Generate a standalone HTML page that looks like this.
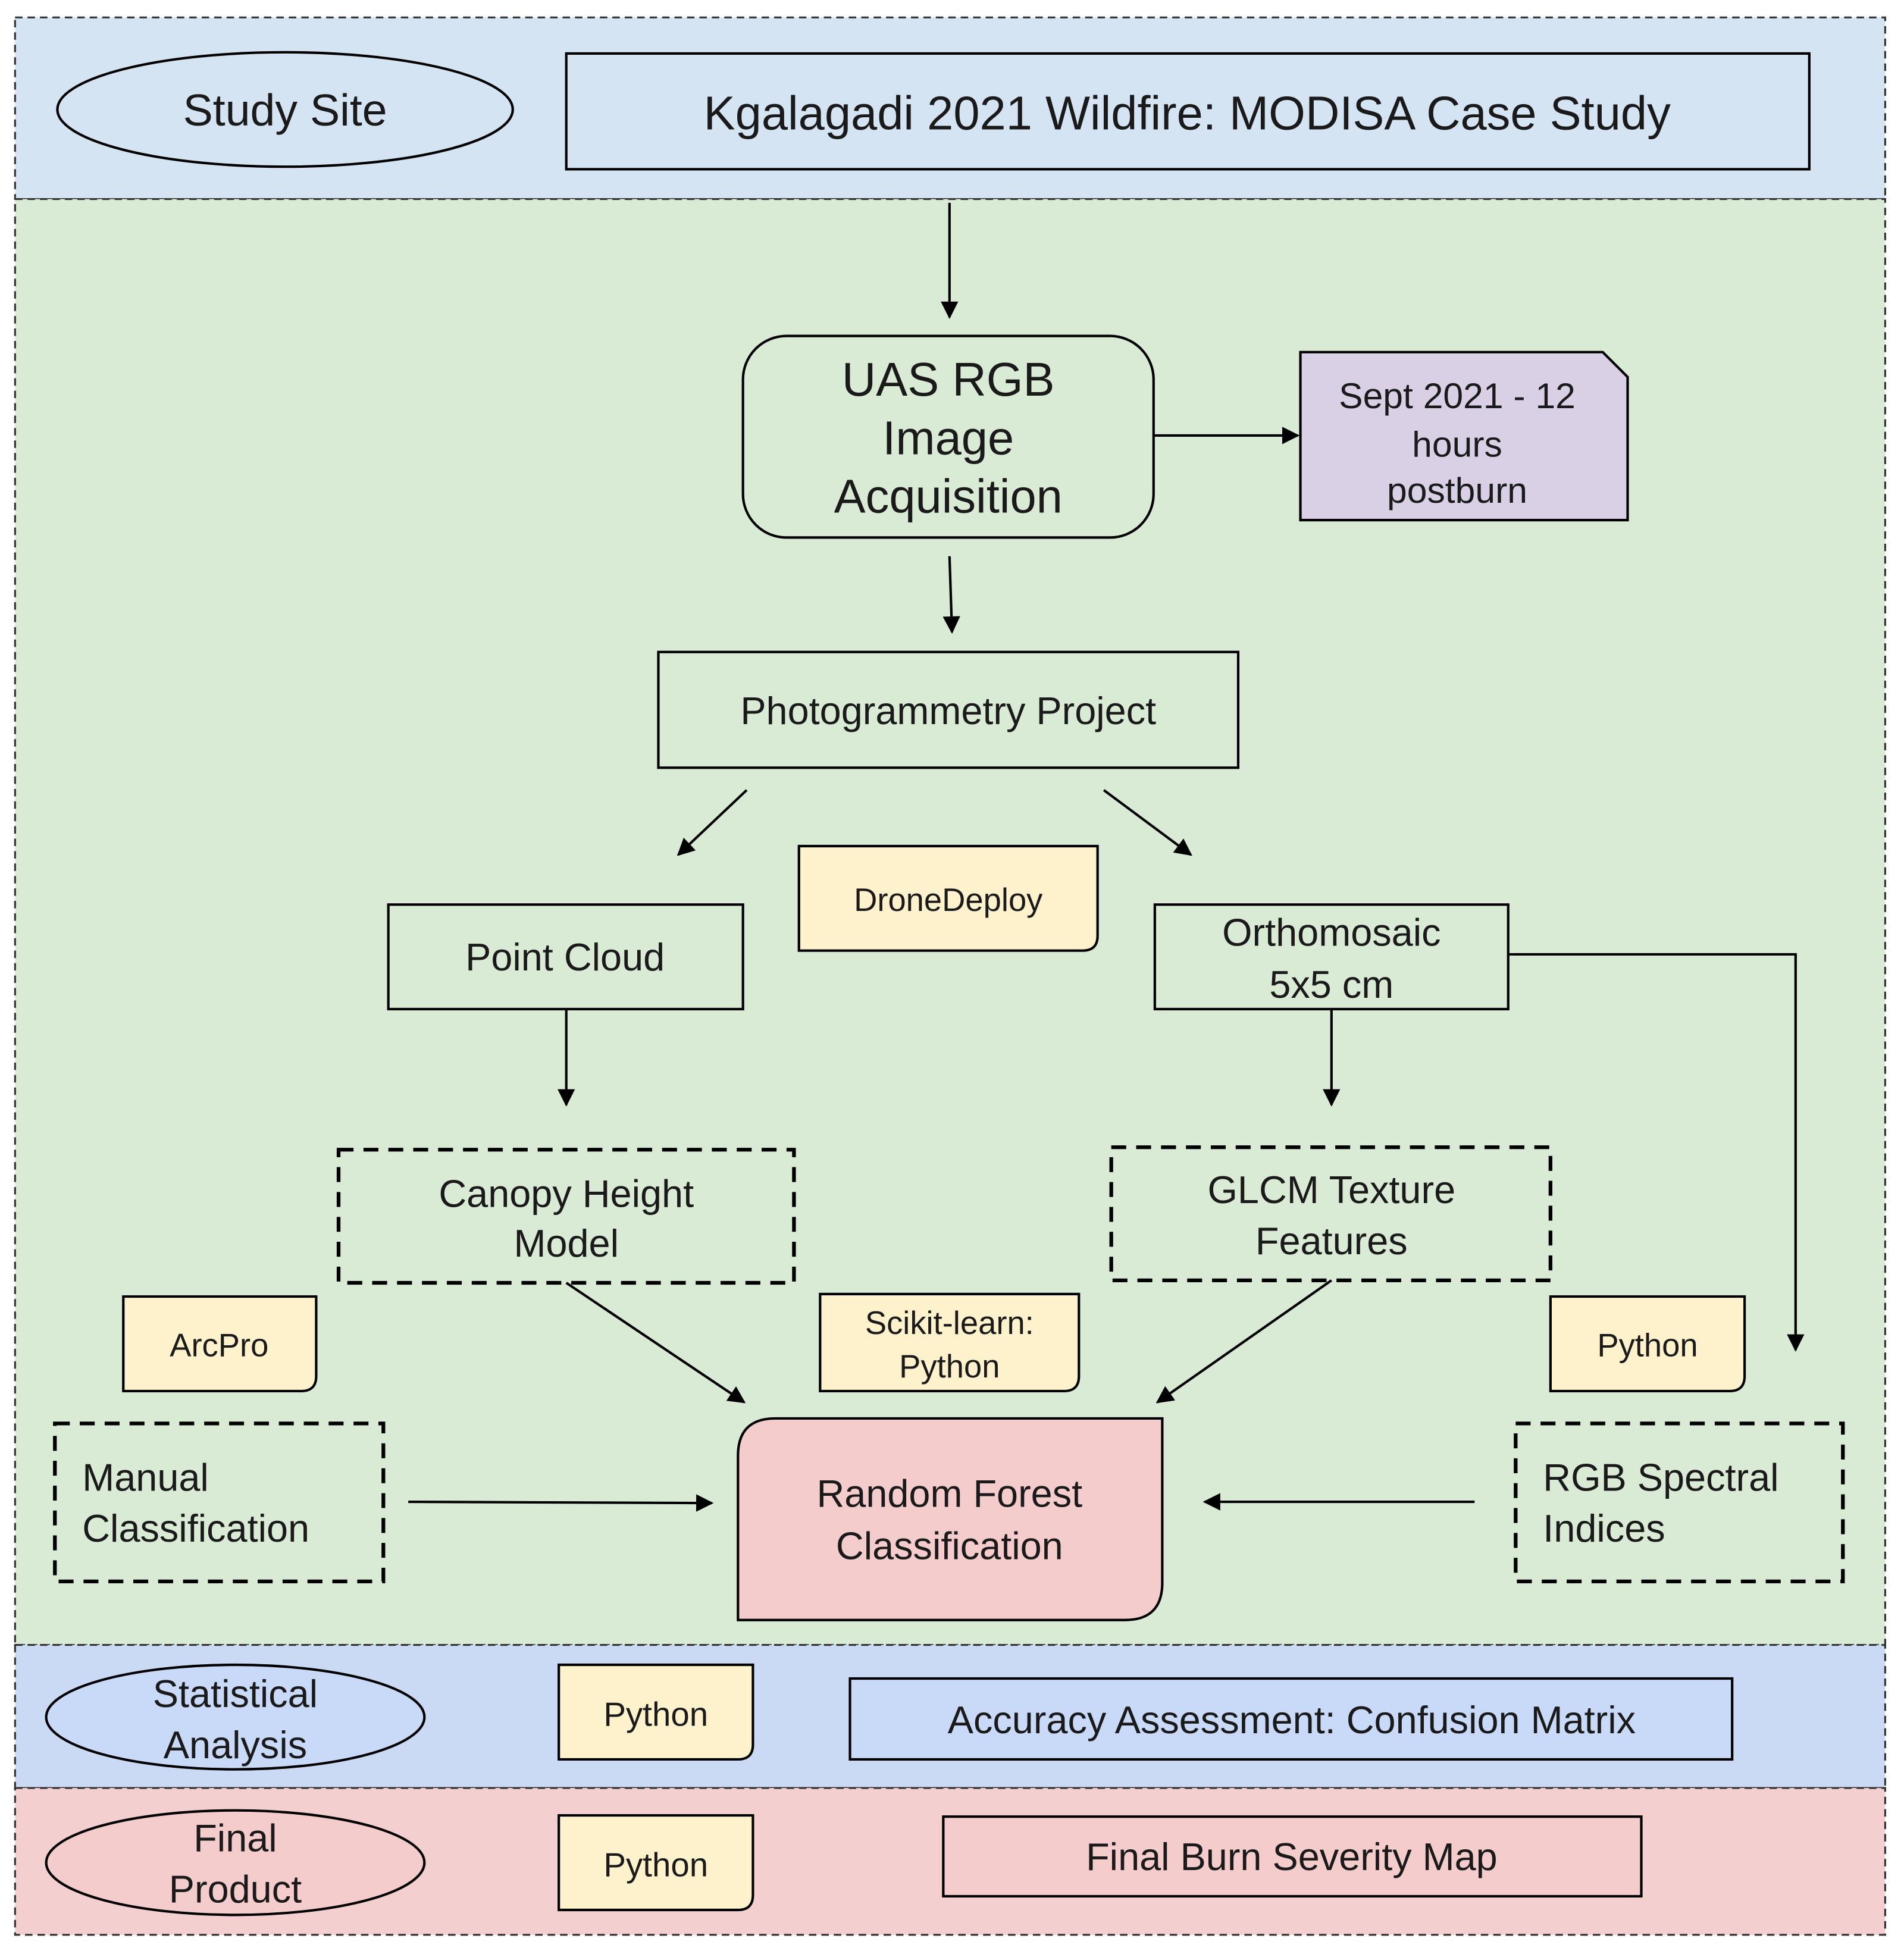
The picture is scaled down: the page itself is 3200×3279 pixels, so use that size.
<!DOCTYPE html>
<html><head><meta charset="utf-8"><style>html,body{margin:0;padding:0;background:#fff}svg{display:block}text{font-family:"Liberation Sans",sans-serif;fill:#1a1a1a;text-anchor:middle}</style></head>
<body>
<svg width="3200" height="3279" viewBox="0 0 1530 1568" xmlns="http://www.w3.org/2000/svg">
<defs><marker id="a" markerWidth="10" markerHeight="10" refX="9" refY="5" orient="auto" markerUnits="userSpaceOnUse"><path d="M0,0 L10,5 L0,10 z" fill="#000"/></marker>
<marker id="b" viewBox="0 0 10 10" markerWidth="16" markerHeight="14" refX="9" refY="5" orient="auto" markerUnits="userSpaceOnUse"><path d="M0,0 L10,5 L0,10 z" fill="#000"/></marker></defs>
<g stroke="#333" stroke-width="1.5" stroke-dasharray="6,4">
<rect x="12" y="14" width="1503" height="146" fill="#d4e4f2"/>
<rect x="12" y="160" width="1503" height="1162" fill="#d9ead5"/>
<rect x="12" y="1322" width="1503" height="115" fill="#cbdaf4"/>
<rect x="12" y="1437" width="1503" height="118" fill="#f4cfcf"/>
</g>
<g stroke="#000" stroke-width="2" fill="none">
<ellipse cx="229" cy="88" rx="183" ry="46" fill="#d4e4f2"/>
<rect x="455" y="43" width="999" height="93" fill="#d4e4f2"/>
<rect x="597" y="270" width="330" height="162" rx="35" fill="#d9ead5"/>
<path d="M1045,283 H1288 L1308,303 V418 H1045 Z" fill="#d9d0e6"/>
<rect x="529" y="524" width="466" height="93" fill="#d9ead5"/>
<path d="M642,680 H882 V752 Q882,764 870,764 H642 Z" fill="#fdf2cc"/>
<rect x="312" y="727" width="285" height="84" fill="#d9ead5"/>
<rect x="928" y="727" width="284" height="84" fill="#d9ead5"/>
<path d="M99,1042 H254 V1106 Q254,1118 242,1118 H99 Z" fill="#fdf2cc"/>
<path d="M659,1040 H867 V1106 Q867,1118 855,1118 H659 Z" fill="#fdf2cc"/>
<path d="M1246,1042 H1402 V1106 Q1402,1118 1390,1118 H1246 Z" fill="#fdf2cc"/>
<path d="M623,1140 H934 V1272 Q934,1302 904,1302 H593 V1170 Q593,1140 623,1140 Z" fill="#f4cccc"/>
<ellipse cx="189" cy="1380" rx="152" ry="42" fill="#c9daf8"/>
<path d="M449,1338 H605 V1402 Q605,1414 593,1414 H449 Z" fill="#fdf2cc"/>
<rect x="683" y="1349" width="709" height="65" fill="#c9daf8"/>
<ellipse cx="189" cy="1497" rx="152" ry="42" fill="#f4cccc"/>
<path d="M449,1459 H605 V1523 Q605,1535 593,1535 H449 Z" fill="#fdf2cc"/>
<rect x="758" y="1460" width="561" height="64" fill="#f4cccc"/>
</g>
<g stroke="#000" stroke-width="3" fill="none" stroke-dasharray="12,8">
<rect x="272" y="924" width="366" height="107"/>
<rect x="893" y="922" width="353" height="107"/>
<rect x="44" y="1144" width="264" height="127"/>
<rect x="1218" y="1144" width="263" height="127"/>
</g>
<g stroke="#000" stroke-width="2" fill="none" marker-end="url(#b)">
<path d="M763,163 V255"/>
<path d="M927,350 H1043"/>
<path d="M763,447 L765,508"/>
<path d="M600,635 L545,687"/>
<path d="M887,635 L957,687"/>
<path d="M1212,767 H1443 V1085"/>
<path d="M455,811 V888"/>
<path d="M1070,811 V888"/>
<path d="M455,1031 L598,1127"/>
<path d="M1070,1029 L930,1127"/>
<path d="M328,1207 L572,1208"/>
<path d="M1185,1207 H968"/>
</g>
<text x="229" y="101" font-size="36">Study Site</text>
<text x="954" y="104" font-size="38">Kgalagadi 2021 Wildfire: MODISA Case Study</text>
<text x="762" y="318" font-size="38">UAS RGB</text>
<text x="762" y="365" font-size="38">Image</text>
<text x="762" y="412" font-size="38">Acquisition</text>
<text x="1171" y="328" font-size="29">Sept 2021 - 12</text>
<text x="1171" y="367" font-size="29">hours</text>
<text x="1171" y="404" font-size="29">postburn</text>
<text x="762" y="582" font-size="31">Photogrammetry Project</text>
<text x="762" y="732" font-size="26">DroneDeploy</text>
<text x="454" y="780" font-size="31">Point Cloud</text>
<text x="1070" y="760" font-size="31">Orthomosaic</text>
<text x="1070" y="802" font-size="31">5x5 cm</text>
<text x="455" y="970" font-size="31">Canopy Height</text>
<text x="455" y="1010" font-size="31">Model</text>
<text x="1070" y="967" font-size="31">GLCM Texture</text>
<text x="1070" y="1008" font-size="31">Features</text>
<text x="176" y="1090" font-size="26">ArcPro</text>
<text x="763" y="1072" font-size="26">Scikit-learn:</text>
<text x="763" y="1107" font-size="26">Python</text>
<text x="1324" y="1090" font-size="26">Python</text>
<text x="66" y="1198" font-size="31" style="text-anchor:start">Manual</text>
<text x="66" y="1239" font-size="31" style="text-anchor:start">Classification</text>
<text x="1240" y="1198" font-size="31" style="text-anchor:start">RGB Spectral</text>
<text x="1240" y="1239" font-size="31" style="text-anchor:start">Indices</text>
<text x="763" y="1211" font-size="31">Random Forest</text>
<text x="763" y="1253" font-size="31">Classification</text>
<text x="189" y="1372" font-size="31">Statistical</text>
<text x="189" y="1413" font-size="31">Analysis</text>
<text x="527" y="1387" font-size="27">Python</text>
<text x="1038" y="1393" font-size="31">Accuracy Assessment: Confusion Matrix</text>
<text x="189" y="1488" font-size="31">Final</text>
<text x="189" y="1529" font-size="31">Product</text>
<text x="527" y="1508" font-size="27">Python</text>
<text x="1038" y="1503" font-size="31">Final Burn Severity Map</text>
</svg>
</body></html>
